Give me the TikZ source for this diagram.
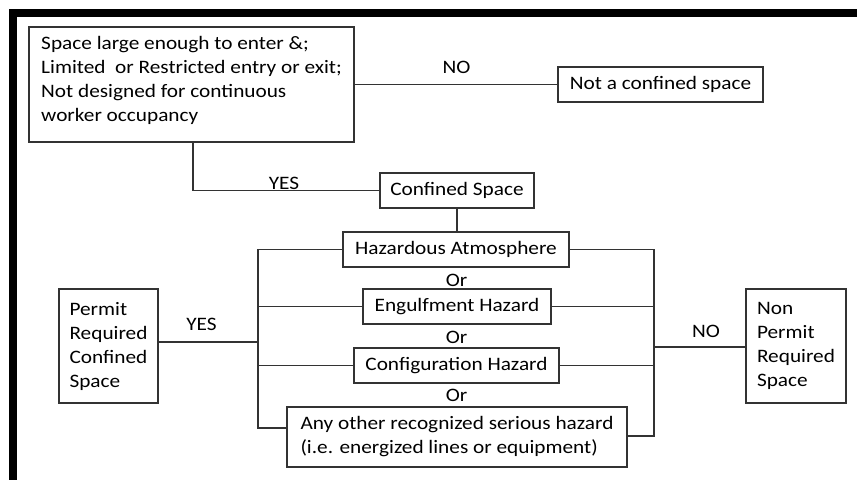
\documentclass[tikz,border=0pt]{standalone}
\usepackage{fontspec}
\setmainfont{Carlito}[FakeStretch=1.12]
\begin{document}
\begin{tikzpicture}[x=1pt,y=-1pt,
  box/.style={draw=black!80, line width=1.1pt, fill=white, align=left, inner xsep=2pt, inner ysep=2pt,
    font=\fontsize{19}{24}\selectfont},
  cbox/.style={box, align=center},
  conn/.style={draw=black!80, line width=1.1pt},
  lbl/.style={font=\fontsize{19}{24}\selectfont, inner sep=0pt}]
\useasboundingbox (0,0) rectangle (857,480);
\fill[white] (0,0) rectangle (857,480);
% frame
\fill[black] (9,9) rectangle (857,17);
\fill[black] (9,9) rectangle (17,480);
% boxes
\node[box, minimum width=325pt, minimum height=115pt] (q) at (191.5,84.5)
  {Space large enough to enter \&;\\Limited~ or Restricted entry or exit;\\Not designed for continuous\\worker occupancy\rule[-11pt]{0pt}{1pt}};
\node[cbox, minimum width=205pt, minimum height=35pt] (notcs) at (660.5,84.5) {Not a confined space};
\node[cbox, minimum width=154pt, minimum height=35pt] (cs) at (457,190.5) {Confined Space};
\node[cbox, minimum width=226pt, minimum height=35pt] (haz) at (456,249.5) {Hazardous Atmosphere};
\node[cbox, minimum width=188pt, minimum height=35pt] (eng) at (457,306.5) {Engulfment Hazard};
\node[cbox, minimum width=205pt, minimum height=35pt] (conf) at (456.5,365.5) {Configuration Hazard};
\node[box, minimum width=340pt, minimum height=60pt] (other) at (457,437)
  {Any other recognized serious hazard\\(i.e. energized lines or equipment)};
\node[box, minimum width=99pt, minimum height=114pt] (prcs) at (108.5,346)
  {Permit\\Required\\Confined\\Space};
\node[box, minimum width=100pt, minimum height=114pt] (npr) at (796,346)
  {Non\\Permit\\Required\\Space};
% bus coordinates
\coordinate (L) at (258,0);
\coordinate (R) at (654,0);
\coordinate (oL) at ([yshift=9pt]other.west);
\coordinate (oR) at ([yshift=1pt]other.east);
\coordinate (pE) at ([yshift=4pt]prcs.east);
\coordinate (nW) at ([yshift=-1pt]npr.west);
\coordinate (qS) at ([xshift=1.5pt]q.south);
% connectors
\draw[conn] (q.east) -- (notcs.west);
\draw[conn] (qS) |- (cs.west);
\draw[conn] (cs.south) -- (cs.south |- haz.north);
\draw[conn] (haz.west) -- (haz.west -| L) -- (L |- oL) -- (oL);
\draw[conn] (eng.west) -- (eng.west -| L);
\draw[conn] (conf.west) -- (conf.west -| L);
\draw[conn] (haz.east) -- (haz.east -| R) -- (R |- oR) -- (oR);
\draw[conn] (eng.east) -- (eng.east -| R);
\draw[conn] (conf.east) -- (conf.east -| R);
\draw[conn] (pE) -- (pE -| L);
\draw[conn] (nW) -- (nW -| R);
% labels
\node[lbl, anchor=base] (no1) at (456.5,73) {NO};
\node[lbl, anchor=base] (yes1) at (284,189) {YES};
\node[lbl, anchor=base] (yes2) at (201.5,330) {YES};
\node[lbl, anchor=base] (no2) at (706,337) {NO};
\node[lbl, anchor=base] (or1) at (456.5,286) {Or};
\node[lbl, anchor=base] (or2) at (456.5,343) {Or};
\node[lbl, anchor=base] (or3) at (456.5,401) {Or};
\end{tikzpicture}
\end{document}
